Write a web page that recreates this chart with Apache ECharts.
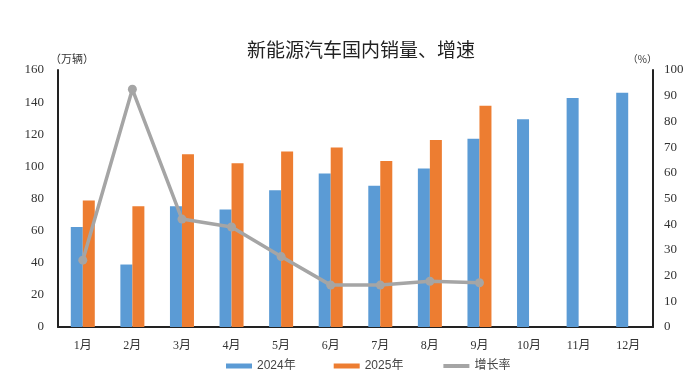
<!DOCTYPE html>
<html><head><meta charset="utf-8">
<script src="https://cdn.jsdelivr.net/npm/echarts@6/dist/echarts.min.js"></script>
<style>html,body{margin:0;padding:0;background:#fff}#c{width:687px;height:379px}</style>
</head><body><div id="c"></div>
<script>
var months = ['1月','2月','3月','4月','5月','6月','7月','8月','9月','10月','11月','12月'];
var sales2024 = [62.2, 38.9, 75.2, 73.2, 85.2, 95.5, 87.9, 98.6, 117.2, 129.4, 142.6, 145.9];
var sales2025 = [78.8, 75.2, 107.5, 101.9, 109.3, 111.8, 103.4, 116.4, 137.7, null, null, null];
var growth = [26.0, 92.5, 42.0, 38.9, 27.4, 16.3, 16.3, 17.8, 17.2, null, null, null];

var chart = echarts.init(document.getElementById('c'));
var numFont = {fontFamily:'Liberation Serif', fontSize:13, color:'#333'};
chart.setOption({
  animation:false,
  title:{text:'新能源汽车国内销量、增速', left:356, textAlign:'center', top:35,
    textStyle:{fontFamily:'Noto Sans CJK SC', fontSize:19, fontWeight:'normal', color:'#222'}},
  legend:{top:355, left:221, itemGap:38, itemWidth:26, itemHeight:5,
    textStyle:{fontFamily:'Liberation Sans, Noto Sans CJK SC', fontSize:12, color:'#444'},
    data:[{name:'2024年', icon:'rect'},{name:'2025年', icon:'rect'},
          {name:'增长率', lineStyle:{width:4}}]},
  grid:{left:58, right:34, top:70, bottom:52},
  xAxis:{type:'category', data:months,
    axisLine:{lineStyle:{color:'#222', width:2}}, axisTick:{show:false},
    axisLabel:{fontFamily:'Liberation Serif, Noto Sans CJK SC', fontSize:12, color:'#333', margin:13}},
  yAxis:[
    {type:'value', min:0, max:160, interval:20, name:'（万辆）',
     nameTextStyle:{fontFamily:'Noto Sans CJK SC', fontSize:11, color:'#333', align:'left', padding:[0,0,0,-8]},
     nameGap:6,
     axisLine:{show:true, lineStyle:{color:'#222', width:2}}, axisTick:{show:false}, splitLine:{show:false},
     axisLabel:Object.assign({margin:14}, numFont)},
    {type:'value', min:0, max:100, interval:10, name:'（%）',
     nameTextStyle:{fontFamily:'Noto Sans CJK SC', fontSize:10, color:'#333', align:'right', padding:[0,-4,0,0]},
     nameGap:6,
     axisLine:{show:true, lineStyle:{color:'#222', width:2}}, axisTick:{show:false}, splitLine:{show:false},
     axisLabel:Object.assign({margin:11}, numFont)}
  ],
  series:[
    {name:'2024年', type:'bar', data:sales2024, barWidth:12, barGap:'0%',
     itemStyle:{color:'#5B9BD5'}},
    {name:'2025年', type:'bar', data:sales2025, barWidth:12, barGap:'0%',
     itemStyle:{color:'#ED7D31'}},
    {name:'增长率', type:'line', yAxisIndex:1, data:growth, symbol:'circle', symbolSize:9,
     lineStyle:{color:'#A5A5A5', width:3.5}, itemStyle:{color:'#A5A5A5'}}
  ]
});
</script></body></html>
